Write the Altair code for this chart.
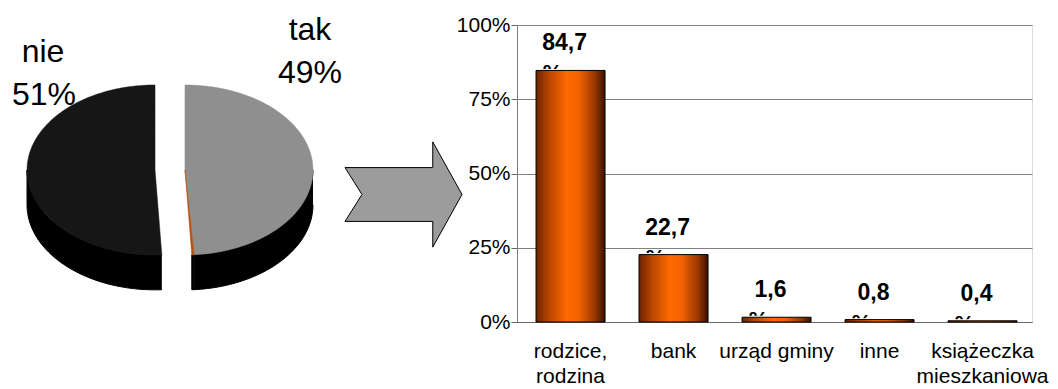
import altair as alt
import numpy as np
import pandas as pd

# ---------------- data ----------------
pie_labels = ["tak", "brak danych", "nie"]
pie_values = [49.0, 0.3, 51.0]
pie_colors = ["#8f8f8f", "#b4500e", "#161616"]

categories = ["rodzice,\nrodzina", "bank", "urząd gminy", "inne", "książeczka\nmieszkaniowa"]
shares = [84.7, 22.7, 1.6, 0.8, 0.4]
share_labels = ["84,7", "22,7", "1,6", "0,8", "0,4"]
y_ticks = [0, 25, 50, 75, 100]

FONT = "Liberation Sans"

# ---------------- pie geometry (unit ellipse, built from the values) ----------------
EXPLODE = 0.117   # horizontal explosion, in radii
DEPTH = 0.41      # thickness of the 3D pie, in vertical radii
total = sum(pie_values)
rows = []
start = 0.0
for lab, val in zip(pie_labels, pie_values):
    end = start + 360.0 * val / total
    mid = (start + end) / 2
    du = EXPLODE * np.sign(np.sin(np.radians(mid)))
    n = max(2, int(np.ceil((end - start) / 1.5)))
    th = np.linspace(start, end, n + 1)
    pts = [(0.0, 0.0)] + [(np.sin(np.radians(t)), np.cos(np.radians(t))) for t in th] + [(0.0, 0.0)]
    for k, (u, v) in enumerate(pts):
        rows.append(dict(slice=lab, part="top", k=k, u=u + du, v=v))
    a0, a1 = max(start, 90.0), min(end, 270.0)
    if a1 > a0:
        m = max(2, int(np.ceil((a1 - a0) / 1.5)))
        ws = np.linspace(a0, a1, m + 1)
        upper = [(np.sin(np.radians(t)), np.cos(np.radians(t))) for t in ws]
        lower = [(u, v - DEPTH) for (u, v) in reversed(upper)]
        for k, (u, v) in enumerate(upper + lower):
            rows.append(dict(slice=lab, part="wall", k=k, u=u + du, v=v))
    start = end
pie_df = pd.DataFrame(rows)

xs = alt.Scale(domain=[-1, 1], range=[-475, -219], nice=False, zero=False)
ys = alt.Scale(domain=[-1, 1], range=[230, 60], nice=False, zero=False)

pie_layers = []
for lab in pie_labels:
    pie_layers.append(
        alt.Chart(pie_df).transform_filter(
            (alt.datum.part == "wall") & (alt.datum.slice == lab)
        ).mark_line(fill="#000000", stroke="#000000", strokeWidth=1).encode(
            x=alt.X("u:Q", scale=xs, axis=None),
            y=alt.Y("v:Q", scale=ys, axis=None),
            order="k:Q",
        )
    )
for lab, col in zip(pie_labels, pie_colors):
    pie_layers.append(
        alt.Chart(pie_df).transform_filter(
            (alt.datum.part == "top") & (alt.datum.slice == lab)
        ).mark_line(fill=col, stroke=col, strokeWidth=0.5).encode(
            x=alt.X("u:Q", scale=xs, axis=None),
            y=alt.Y("v:Q", scale=ys, axis=None),
            order="k:Q",
        )
    )

one = pd.DataFrame({"a": [0]})
pie_text_style = dict(font=FONT, fontSize=32, color="black", align="center", baseline="alphabetic")
pct = {l: f"{round(v)}%" for l, v in zip(pie_labels, pie_values)}
pie_layers += [
    alt.Chart(one).mark_text(text="nie", **pie_text_style).encode(x=alt.value(-474), y=alt.value(37)),
    alt.Chart(one).mark_text(text=pct["nie"], **pie_text_style).encode(x=alt.value(-473), y=alt.value(80)),
    alt.Chart(one).mark_text(text="tak", **pie_text_style).encode(x=alt.value(-207), y=alt.value(15)),
    alt.Chart(one).mark_text(text=pct["tak"], **pie_text_style).encode(x=alt.value(-207), y=alt.value(58)),
]

arrow_path = "M-1,-0.46 L0.5,-0.46 L0.5,-0.9 L1,0 L0.5,0.9 L0.5,0.46 L-1,0.46 L-0.71,0 Z"
pie_layers.append(
    alt.Chart(one).mark_point(shape=arrow_path, size=13689, filled=True, fill="#9c9c9c",
                              stroke="#000000", strokeWidth=1, opacity=1).encode(
        x=alt.value(-113.5), y=alt.value(169.5)
    )
)
pie_group = alt.layer(*pie_layers)

# ---------------- bar chart ----------------
bar_df = pd.DataFrame({"cat": categories, "share": shares, "label": share_labels})

xscale = alt.Scale(domain=categories, paddingInner=0.33, paddingOuter=0.165, align=0.56)
yscale = alt.Scale(domain=[0, 100], nice=False, zero=True)

x_axis = alt.Axis(orient="bottom", title=None, ticks=False, grid=False, domain=True,
                  domainColor="#666666", labelFont=FONT, labelFontSize=21, labelColor="black",
                  labelPadding=18, labelLineHeight=25, labelAngle=0,
                  labelExpr="split(datum.label, '\\n')")
y_axis = alt.Axis(orient="left", title=None, values=y_ticks, labelExpr="datum.value + '%'",
                  grid=True, gridColor="#808080", gridWidth=1, tickSize=6, tickColor="#666666",
                  domainColor="#808080", labelFont=FONT, labelFontSize=21, labelColor="black",
                  labelPadding=1)

base = alt.Chart(bar_df)
X = alt.X("cat:N", sort=categories, scale=xscale, axis=x_axis)
Y = alt.Y("share:Q", scale=yscale, axis=y_axis)

pct_frag = base.mark_text(text="%", font=FONT, fontWeight="bold", fontSize=22, color="black",
                          align="center", baseline="alphabetic", dx=-18, dy=10, clip=True).encode(
    x=X, y=Y)

cover = base.transform_calculate(top="datum.share + 0.5").mark_bar(color="white").encode(
    x=X, y=alt.Y("top:Q", scale=yscale, axis=y_axis), y2=alt.datum(0))

grad = alt.LinearGradient(
    gradient="linear", x1=0, x2=1, y1=0, y2=0,
    stops=[
        alt.GradientStop(offset=0.0, color="#6a2300"),
        alt.GradientStop(offset=0.18, color="#b84400"),
        alt.GradientStop(offset=0.45, color="#ff6a00"),
        alt.GradientStop(offset=0.62, color="#f26200"),
        alt.GradientStop(offset=0.85, color="#9a3800"),
        alt.GradientStop(offset=1.0, color="#3a1100"),
    ],
)
bars = base.mark_bar(fill=grad, stroke="#000000", strokeWidth=1).encode(x=X, y=Y)

values = base.mark_text(font=FONT, fontWeight="bold", fontSize=23, color="black",
                        align="center", baseline="alphabetic", dx=-6, dy=-20).encode(
    x=X, y=Y, text="label:N")

bar_group = alt.layer(pct_frag, cover, bars, values)

chart = alt.layer(bar_group, pie_group).resolve_scale(
    x="independent", y="independent"
).properties(
    width=515, height=297,
    padding={"left": 517, "top": 25, "right": 26, "bottom": 67},
    autosize=alt.AutoSizeParams(type="none"),
).configure_view(stroke="#808080", strokeWidth=1).configure(font=FONT, background="white")

chart.save("out.html", embed_options={"renderer": "svg", "actions": False})
